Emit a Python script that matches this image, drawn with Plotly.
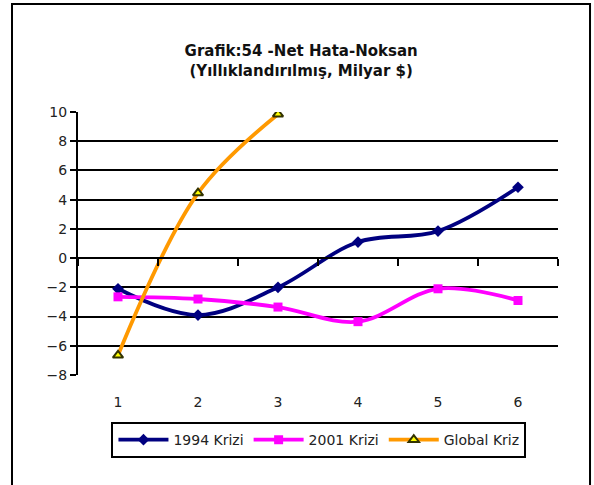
import plotly.graph_objects as go

# Periods (quarters after crisis onset) and net errors & omissions, bn USD (annualised)
periods = [1, 2, 3, 4, 5, 6]
kriz_1994 = [-2.1, -3.9, -2.0, 1.1, 1.85, 4.85]
kriz_2001 = [-2.65, -2.8, -3.35, -4.35, -2.1, -2.9]
global_periods = [1, 2, 3]
global_kriz = [-6.65, 4.45, 9.85]

y_ticks = [-8, -6, -4, -2, 0, 2, 4, 6, 8, 10]
inner_grid = [-6, -4, -2, 2, 4, 6, 8]
outer_grid = [-8, 10]
x_range = [0.5, 6.5]
y_range = [-8, 10]
boundary_ticks = [0.5, 1.5, 2.5, 3.5, 4.5, 5.5, 6.5]

FONT = "DejaVu Sans"

fig = go.Figure()

fig.add_trace(go.Scatter(
    x=periods, y=kriz_1994, name="1994 Krizi", mode="lines+markers",
    line=dict(color="#000080", width=3.8, shape="spline", smoothing=1),
    marker=dict(symbol="diamond", size=9, color="#000080"),
))
fig.add_trace(go.Scatter(
    x=periods, y=kriz_2001, name="2001 Krizi", mode="lines+markers",
    line=dict(color="#FF00FF", width=3.8, shape="spline", smoothing=1),
    marker=dict(symbol="square", size=9, color="#FF00FF"),
))
fig.add_trace(go.Scatter(
    x=global_periods, y=global_kriz, name="Global Kriz", mode="lines+markers",
    line=dict(color="#FF9900", width=3.8, shape="spline", smoothing=1),
    marker=dict(symbol="triangle-up", size=9, color="#FFFF00",
                line=dict(color="#333300", width=2)),
))

# helper traces so the overlaid grid / zero-line axes are rendered
for xa, ya in [("x", "y2"), ("x", "y3"), ("x2", "y")]:
    fig.add_trace(go.Scatter(x=[None], y=[None], xaxis=xa, yaxis=ya,
                             showlegend=False, hoverinfo="skip"))

zero_pos = (0 - y_range[0]) / (y_range[1] - y_range[0])

fig.update_layout(
    width=594, height=485,
    margin=dict(l=78, r=36, t=112, b=110),
    paper_bgcolor="white", plot_bgcolor="white",
    font=dict(family=FONT, size=14, color="#222222"),
    title=dict(
        text="<b>Grafik:54 -Net Hata-Noksan<br>(Yıllıklandırılmış, Milyar $)</b>",
        x=0.507, xref="container", xanchor="center",
        y=0.884, yref="container", yanchor="middle",
        font=dict(family=FONT, size=15, color="#111111"),
    ),
    xaxis=dict(
        range=x_range, tickvals=periods, ticktext=[str(p) for p in periods],
        showgrid=False, zeroline=False, showline=False,
        ticks="outside", ticklen=14, tickcolor="rgba(0,0,0,0)",
        tickfont=dict(size=14),
    ),
    xaxis2=dict(
        overlaying="x", anchor="free", position=zero_pos, side="bottom",
        range=x_range, tickvals=boundary_ticks, showticklabels=False,
        showgrid=False, zeroline=False,
        showline=True, linecolor="black", linewidth=2,
        ticks="outside", ticklen=7, tickwidth=2, tickcolor="black",
    ),
    yaxis=dict(
        range=y_range, tickvals=y_ticks, showgrid=False, zeroline=False,
        showline=True, linecolor="black", linewidth=2,
        ticks="outside", ticklen=6, tickwidth=2, tickcolor="black",
        tickfont=dict(size=14),
    ),
    yaxis2=dict(
        overlaying="y", range=y_range, tickvals=inner_grid,
        showticklabels=False, ticks="", zeroline=False,
        showgrid=True, gridcolor="black", gridwidth=2.2,
    ),
    yaxis3=dict(
        overlaying="y", range=y_range, tickvals=outer_grid,
        showticklabels=False, ticks="", zeroline=False,
        showgrid=True, gridcolor="#c0c0c0", gridwidth=1.5,
    ),
    legend=dict(
        orientation="h", x=0.502, xanchor="center", y=-0.179, yanchor="top",
        bordercolor="black", borderwidth=2, bgcolor="white",
        font=dict(family=FONT, size=14, color="#222222"),
        itemwidth=50, tracegroupgap=0,
    ),
    shapes=[dict(
        type="rect", xref="paper", yref="paper",
        x0=-0.1375, x1=1.0667, y0=-0.45, y1=1.4106,
        line=dict(color="black", width=2), fillcolor="rgba(0,0,0,0)",
        layer="below",
    )],
)

fig.write_html("out.html")
